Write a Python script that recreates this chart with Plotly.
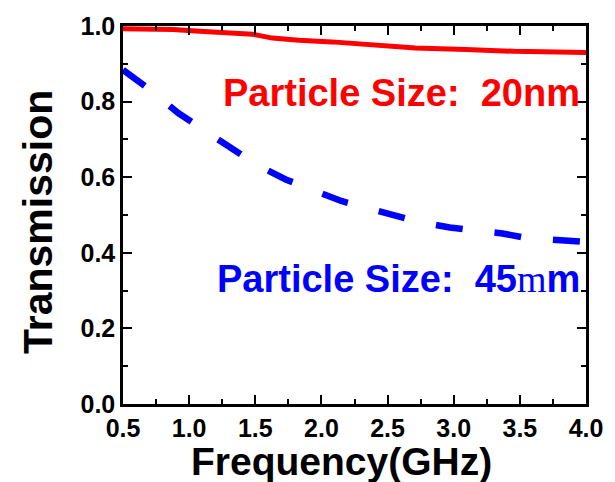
import plotly.graph_objects as go

# Data
freq_20nm = [0.5, 0.88, 1.08, 1.33, 1.48, 1.63, 1.83, 2.08, 2.46, 2.71, 3.09, 3.46, 4.0]
trans_20nm = [0.993, 0.991, 0.986, 0.982, 0.978, 0.968, 0.962, 0.958, 0.949, 0.942,
              0.938, 0.933, 0.930]

freq_45 = [0.5, 0.69, 0.92, 1.09, 1.33, 1.50, 1.73, 1.91, 2.15, 2.32, 2.55,
           2.73, 2.97, 3.15, 3.37, 3.55, 3.79, 3.96, 4.0]
trans_45 = [0.884, 0.835, 0.769, 0.730, 0.671, 0.635, 0.594, 0.568, 0.537,
            0.521, 0.497, 0.482, 0.467, 0.461, 0.451, 0.439, 0.436, 0.430, 0.429]

x_ticks = [0.5, 1.0, 1.5, 2.0, 2.5, 3.0, 3.5, 4.0]
y_ticks = [0.0, 0.2, 0.4, 0.6, 0.8, 1.0]

FONT = "Liberation Sans, Arial, sans-serif"

fig = go.Figure()
fig.add_trace(go.Scatter(x=freq_20nm, y=trans_20nm, mode="lines",
                         line=dict(color="#ff0000", width=5), showlegend=False))
fig.add_trace(go.Scatter(x=freq_45, y=trans_45, mode="lines",
                         line=dict(color="#0000ff", width=6.5, dash="27px,32px"),
                         showlegend=False))

fig.add_annotation(x=3.97, y=0.822, xref="x", yref="y", xanchor="right", yanchor="middle",
                   text="Particle Size:  20nm", showarrow=False,
                   font=dict(family=FONT, size=38, color="#ff0000", weight="bold"))
fig.add_annotation(x=3.97, y=0.332, xref="x", yref="y", xanchor="right", yanchor="middle",
                   text="Particle Size:  45<span style=\"font-family:'Liberation Serif';font-weight:normal\">m</span>m",
                   showarrow=False,
                   font=dict(family=FONT, size=38, color="#0000ff", weight="bold"))

# axis titles as annotations to match their placement
fig.add_annotation(x=0.472, y=-0.153, xref="paper", yref="paper", xanchor="center",
                   yanchor="middle", text="Frequency(GHz)", showarrow=False,
                   font=dict(family=FONT, size=39, color="black", weight="bold"))
fig.add_annotation(x=-0.183, y=0.482, xref="paper", yref="paper", xanchor="center",
                   yanchor="middle", text="Transmission", textangle=-90, showarrow=False,
                   font=dict(family=FONT, size=41, color="black", weight="bold"))

axis_common = dict(showgrid=False, zeroline=False, showline=True, linecolor="black",
                   linewidth=2.5, mirror="ticks", ticks="inside", ticklen=9,
                   tickwidth=2, tickcolor="black",
                   tickfont=dict(family=FONT, size=25, color="black", weight="bold"))

fig.update_xaxes(range=[0.5, 4.0], tickvals=x_ticks,
                 ticktext=[f"{v:.1f}" for v in x_ticks],
                 minor=dict(ticks="inside", ticklen=5, tickwidth=2, tickcolor="black", dtick=0.25),
                 **axis_common)
fig.update_yaxes(range=[0.0, 1.0], tickvals=y_ticks,
                 ticktext=[f"{v:.1f}" for v in y_ticks],
                 minor=dict(ticks="inside", ticklen=5, tickwidth=2, tickcolor="black", dtick=0.1),
                 **axis_common)

fig.update_layout(width=615, height=482, margin=dict(l=123, r=27, t=24, b=78),
                  paper_bgcolor="white", plot_bgcolor="white")

fig.write_html("out.html")
